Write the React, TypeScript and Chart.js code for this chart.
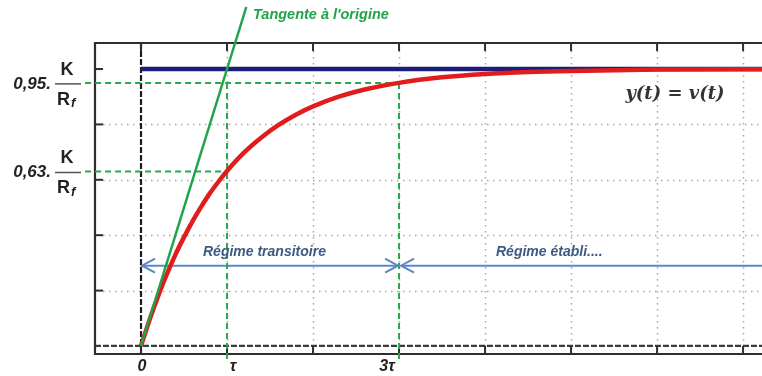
import { useEffect, useRef } from "react";
import { Chart, registerables } from "chart.js";

Chart.register(...registerables);

// ---- data (t in units of tau, y in units of K/Rf) ----
const T_VALUES = [0, 0.1, 0.2, 0.3, 0.4, 0.5, 0.6, 0.7, 0.8, 0.9, 1, 1.2, 1.4, 1.6, 1.8, 2, 2.3, 2.6, 3, 3.5, 4, 4.5, 5, 6, 7.22];
const RESPONSE = [0, 0.095, 0.181, 0.259, 0.33, 0.393, 0.451, 0.503, 0.551, 0.593, 0.632, 0.699, 0.753, 0.798, 0.835, 0.865, 0.9, 0.926, 0.95, 0.97, 0.982, 0.989, 0.993, 0.998, 0.999];
const SETPOINT_T = [0, 7.22];
const SETPOINT_Y = [1.0, 1.0];
const TANGENT_T = [0, 1.224];
const TANGENT_Y = [0, 1.224];
const LEVELS = [0.95, 0.63];
const LEVEL_LABELS = ["0,95.", "0,63."];
const LEVEL_TIMES = [3, 1];
const GUIDE_START_T = -0.65;
const GUIDE_BOTTOM_Y = -0.058;
const X_GRID = [1, 2, 3, 4, 5, 6, 7];
const X_TICKS = [0, 1, 2, 3, 4, 5, 6, 7];
const Y_GRID = [0.2, 0.4, 0.6, 0.8];
const Y_TICKS = [0.2, 0.4, 0.6, 0.8, 1.0];
const X_TICK_LABELS = ["0", "τ", "3τ"];
const X_TICK_LABEL_VALUES = [0, 1, 3];
const REGIME_Y = 0.29;
const REGIME_BOUNDS = [0, 3, 7.22];
const REGIME_LABELS = ["Régime transitoire", "Régime établi...."];
const X_MIN = -0.535;
const X_MAX = 7.22;
const Y_MIN = -0.029;
const Y_MAX = 1.094;

const FRAME = "#2e2e2e";
const TXT = "#222222";
const SANS = "'Liberation Sans', Arial, sans-serif";

function arrowHead(ctx: CanvasRenderingContext2D, tipX: number, y: number, dir: number) {
  ctx.beginPath();
  ctx.moveTo(tipX - dir * 13, y - 7);
  ctx.lineTo(tipX, y);
  ctx.lineTo(tipX - dir * 13, y + 7);
  ctx.stroke();
}

const decorPlugin = {
  id: "decor",
  beforeDatasetsDraw(chart: any) {
    const { ctx, chartArea, scales } = chart;
    const xs = scales.x;
    const ys = scales.y;
    const { left, right, top, bottom } = chartArea;
    const y0 = ys.getPixelForValue(0);
    const x0 = xs.getPixelForValue(0);
    ctx.save();
    ctx.strokeStyle = "#a8a8a8";
    ctx.lineWidth = 1.5;
    ctx.setLineDash([1.5, 4.5]);
    X_GRID.forEach((v) => {
      const px = Math.round(xs.getPixelForValue(v)) + 0.5;
      ctx.beginPath();
      ctx.moveTo(px, top + 8);
      ctx.lineTo(px, y0);
      ctx.stroke();
    });
    Y_GRID.forEach((v) => {
      const py = Math.round(ys.getPixelForValue(v)) + 0.5;
      ctx.beginPath();
      ctx.moveTo(left + 8, py);
      ctx.lineTo(right, py);
      ctx.stroke();
    });
    ctx.strokeStyle = "#1e1e1e";
    ctx.lineWidth = 2.2;
    ctx.setLineDash([6, 2]);
    ctx.beginPath();
    ctx.moveTo(x0, top);
    ctx.lineTo(x0, bottom);
    ctx.stroke();
    ctx.strokeStyle = "#3a3a3a";
    ctx.beginPath();
    ctx.moveTo(left, y0);
    ctx.lineTo(right, y0);
    ctx.stroke();
    ctx.setLineDash([]);
    ctx.strokeStyle = FRAME;
    ctx.lineWidth = 2.2;
    ctx.beginPath();
    ctx.moveTo(right + 2, top);
    ctx.lineTo(left, top);
    ctx.lineTo(left, bottom);
    ctx.lineTo(right + 2, bottom);
    ctx.stroke();
    ctx.lineWidth = 2;
    X_TICKS.forEach((v) => {
      const px = xs.getPixelForValue(v);
      ctx.beginPath();
      ctx.moveTo(px, top);
      ctx.lineTo(px, top + 8);
      ctx.moveTo(px, y0);
      ctx.lineTo(px, bottom);
      ctx.stroke();
    });
    Y_TICKS.forEach((v) => {
      const py = ys.getPixelForValue(v);
      ctx.beginPath();
      ctx.moveTo(left, py);
      ctx.lineTo(left + 8, py);
      ctx.stroke();
    });
    ctx.restore();
  },
  afterDatasetsDraw(chart: any) {
    const { ctx, scales } = chart;
    const xs = scales.x;
    const ys = scales.y;
    ctx.save();
    ctx.strokeStyle = "#5b87c6";
    ctx.lineWidth = 2;
    const ay = ys.getPixelForValue(REGIME_Y);
    arrowHead(ctx, xs.getPixelForValue(REGIME_BOUNDS[0]) + 1, ay, -1);
    arrowHead(ctx, xs.getPixelForValue(REGIME_BOUNDS[1]) - 1, ay, 1);
    arrowHead(ctx, xs.getPixelForValue(REGIME_BOUNDS[1]) + 2, ay, -1);
    ctx.fillStyle = "#3d5a84";
    ctx.font = `italic bold 14px ${SANS}`;
    ctx.textBaseline = "middle";
    ctx.textAlign = "left";
    ctx.fillText(REGIME_LABELS[0], 203, ay - 14);
    ctx.fillText(REGIME_LABELS[1], 496, ay - 14);
    ctx.fillStyle = "#23a24c";
    ctx.font = `italic bold 14.5px ${SANS}`;
    ctx.fillText("Tangente à l'origine", 253, 15);
    ctx.fillStyle = "#333333";
    ctx.font = "italic bold 18px 'DejaVu Serif', serif";
    ctx.textAlign = "center";
    ctx.fillText("y(t) = v(t)", 675, 94);
    ctx.fillStyle = TXT;
    ctx.font = `italic bold 16px ${SANS}`;
    const offs = [1, 6, -12];
    X_TICK_LABEL_VALUES.forEach((v, i) => {
      ctx.fillText(X_TICK_LABELS[i], xs.getPixelForValue(v) + offs[i], 367);
    });
    LEVELS.forEach((lv, i) => {
      const py = ys.getPixelForValue(lv) + 1;
      ctx.fillStyle = TXT;
      ctx.textAlign = "right";
      ctx.font = `italic bold 17px ${SANS}`;
      ctx.fillText(LEVEL_LABELS[i], 51, py);
      ctx.strokeStyle = "#555";
      ctx.lineWidth = 1.5;
      ctx.beginPath();
      ctx.moveTo(55, py);
      ctx.lineTo(81, py);
      ctx.stroke();
      ctx.textAlign = "center";
      ctx.font = `bold 18px ${SANS}`;
      ctx.fillText("K", 67, py - 14);
      ctx.textAlign = "left";
      ctx.fillText("R", 57, py + 16);
      ctx.font = `italic bold 13px ${SANS}`;
      ctx.fillText("f", 71, py + 20);
    });
    ctx.restore();
  },
};

export default function App() {
  const ref = useRef<HTMLCanvasElement | null>(null);
  useEffect(() => {
    if (!ref.current) return;
    const pts = (xs: number[], ys: number[]) => xs.map((x, i) => ({ x, y: ys[i] }));
    const guideH = LEVELS.map((lv, i) => ({
      data: pts([GUIDE_START_T, LEVEL_TIMES[i]], [lv, lv]),
    }));
    const guideV = LEVELS.map((lv, i) => ({
      data: pts([LEVEL_TIMES[i], LEVEL_TIMES[i]], [LEVELS[0], GUIDE_BOTTOM_Y]),
    }));
    const guideStyle = {
      borderColor: "#2aa84c",
      borderWidth: 2,
      borderDash: [6, 4],
      pointRadius: 0,
      clip: false as any,
      order: 3,
    };
    const chart = new Chart(ref.current, {
      type: "line",
      data: {
        datasets: [
          {
            data: pts(TANGENT_T, TANGENT_Y),
            borderColor: "#1fa34c",
            borderWidth: 2.5,
            pointRadius: 0,
            clip: false as any,
            order: 0,
          },
          {
            data: pts(T_VALUES, RESPONSE),
            borderColor: "#e01c1c",
            borderWidth: 4.5,
            pointRadius: 0,
            cubicInterpolationMode: "monotone",
            order: 1,
          },
          {
            data: pts(SETPOINT_T, SETPOINT_Y),
            borderColor: "#1c1c7a",
            borderWidth: 4.5,
            pointRadius: 0,
            order: 2,
          },
          ...guideH.map((g) => ({ ...g, ...guideStyle })),
          ...guideV.map((g) => ({ ...g, ...guideStyle })),
          {
            data: pts([REGIME_BOUNDS[0], REGIME_BOUNDS[1]], [REGIME_Y, REGIME_Y]),
            borderColor: "#5b87c6",
            borderWidth: 2,
            pointRadius: 0,
            order: 4,
          },
          {
            data: pts([REGIME_BOUNDS[1] + 0.03, REGIME_BOUNDS[2]], [REGIME_Y, REGIME_Y]),
            borderColor: "#5b87c6",
            borderWidth: 2,
            pointRadius: 0,
            order: 4,
          },
        ] as any,
      },
      options: {
        animation: false,
        responsive: false,
        devicePixelRatio: 1,
        layout: { padding: { left: 95, top: 43, right: 0, bottom: 22 } },
        plugins: { legend: { display: false }, tooltip: { enabled: false } },
        scales: {
          x: { type: "linear", min: X_MIN, max: X_MAX, display: false },
          y: { type: "linear", min: Y_MIN, max: Y_MAX, display: false },
        },
      },
      plugins: [decorPlugin],
    });
    return () => chart.destroy();
  }, []);
  return (
    <div style={{ position: "fixed", left: 0, top: 0, width: 762, height: 376, background: "#fff", overflow: "hidden" }}>
      <canvas ref={ref} width={762} height={376} style={{ display: "block" }} />
    </div>
  );
}
